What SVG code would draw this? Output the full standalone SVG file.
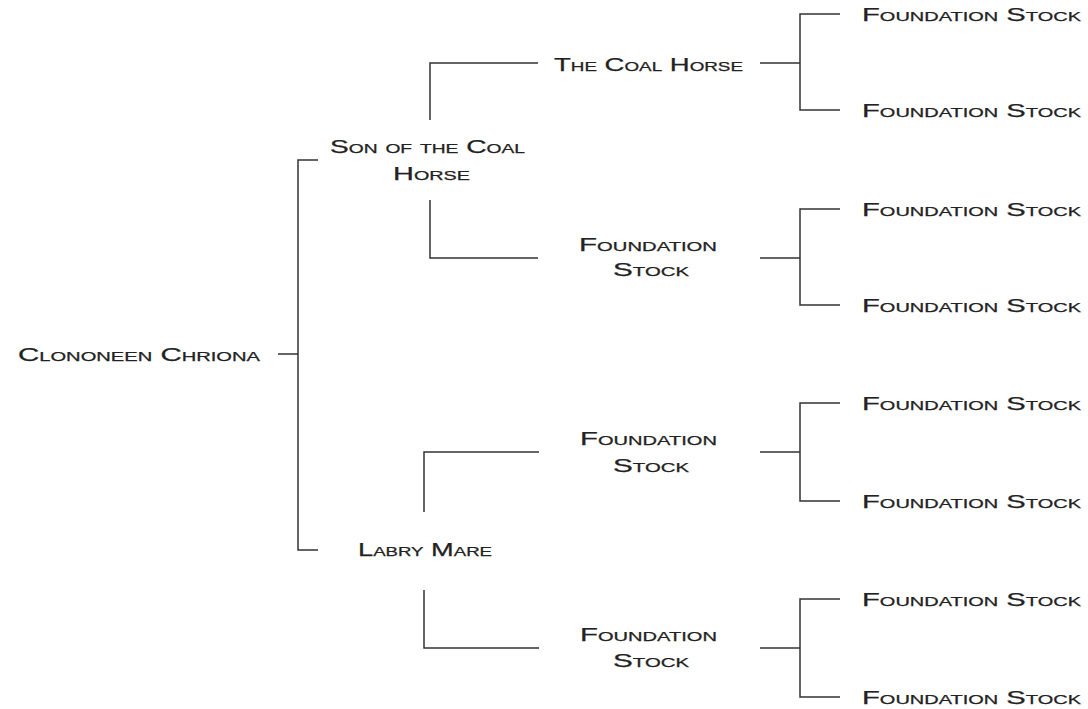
<svg xmlns="http://www.w3.org/2000/svg" width="1088" height="709" viewBox="0 0 1088 709">
<style>
.t{font-family:"Liberation Sans",Arial,sans-serif;font-size:19px;font-variant:small-caps;fill:#222;stroke:#222;stroke-width:0.25;}
.c{fill:none;stroke:#333;stroke-width:1.5;}
</style>
<rect width="1088" height="709" fill="#fff"/>
<g id="connectors" class="c">
<path d="M278,354H298M318,160H298V550H318"/>
<path d="M538,63H430V120M538,258H430V200"/>
<path d="M539,452H424V512M539,648H424V590"/>
<path d="M760,63H800M840,14H800V110H840"/>
<path d="M760,258H800M840,209H800V305H840"/>
<path d="M760,452H800M840,403H800V501H840"/>
<path d="M760,648H800M840,599H800V697H840"/>
</g>
<g id="n-root"><text class="t" x="18" y="361" textLength="242" lengthAdjust="spacingAndGlyphs">Clononeen Chriona</text></g>
<g id="n-son"><text class="t" x="330" y="153" textLength="195" lengthAdjust="spacingAndGlyphs">Son of the Coal</text><text class="t" x="393" y="180" textLength="77" lengthAdjust="spacingAndGlyphs">Horse</text></g>
<g id="n-labry"><text class="t" x="358" y="556" textLength="134" lengthAdjust="spacingAndGlyphs">Labry Mare</text></g>
<g id="n-coal"><text class="t" x="554" y="71" textLength="189" lengthAdjust="spacingAndGlyphs">The Coal Horse</text></g>
<g id="n-fs2"><text class="t" x="579" y="251" textLength="138" lengthAdjust="spacingAndGlyphs">Foundation</text><text class="t" x="613" y="276" textLength="76" lengthAdjust="spacingAndGlyphs">Stock</text></g>
<g id="n-fs3"><text class="t" x="580" y="445" textLength="137" lengthAdjust="spacingAndGlyphs">Foundation</text><text class="t" x="613" y="472" textLength="76" lengthAdjust="spacingAndGlyphs">Stock</text></g>
<g id="n-fs4"><text class="t" x="580" y="641" textLength="137" lengthAdjust="spacingAndGlyphs">Foundation</text><text class="t" x="613" y="667" textLength="76" lengthAdjust="spacingAndGlyphs">Stock</text></g>
<g id="n-l1"><text class="t" x="862" y="21" textLength="219" lengthAdjust="spacingAndGlyphs">Foundation Stock</text></g>
<g id="n-l2"><text class="t" x="862" y="117" textLength="219" lengthAdjust="spacingAndGlyphs">Foundation Stock</text></g>
<g id="n-l3"><text class="t" x="862" y="216" textLength="219" lengthAdjust="spacingAndGlyphs">Foundation Stock</text></g>
<g id="n-l4"><text class="t" x="862" y="312" textLength="219" lengthAdjust="spacingAndGlyphs">Foundation Stock</text></g>
<g id="n-l5"><text class="t" x="862" y="410" textLength="219" lengthAdjust="spacingAndGlyphs">Foundation Stock</text></g>
<g id="n-l6"><text class="t" x="862" y="508" textLength="219" lengthAdjust="spacingAndGlyphs">Foundation Stock</text></g>
<g id="n-l7"><text class="t" x="862" y="606" textLength="219" lengthAdjust="spacingAndGlyphs">Foundation Stock</text></g>
<g id="n-l8"><text class="t" x="862" y="704" textLength="219" lengthAdjust="spacingAndGlyphs">Foundation Stock</text></g>
</svg>
